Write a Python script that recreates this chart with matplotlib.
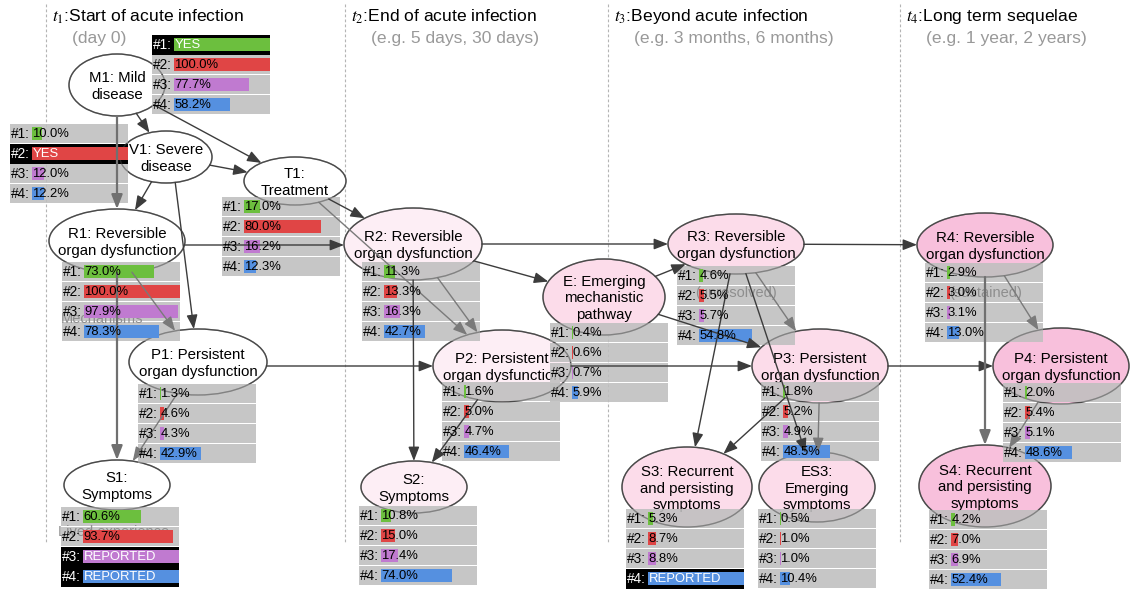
import matplotlib
matplotlib.use('Agg')
import matplotlib.pyplot as plt
from matplotlib.patches import Ellipse, Rectangle, FancyArrowPatch
import numpy as np

plt.rcParams['font.family'] = ['Liberation Sans', 'DejaVu Sans']
plt.rcParams['mathtext.fontset'] = 'stix'

# ---------------- data ----------------
phase_titles = [r'$t_1$:Start of acute infection', r'$t_2$:End of acute infection',
                r'$t_3$:Beyond acute infection', r'$t_4$:Long term sequelae']
phase_subtitles = ['(day 0)', '(e.g. 5 days, 30 days)',
                   '(e.g. 3 months, 6 months)', '(e.g. 1 year, 2 years)']

node_ids = ['M1', 'V1', 'T1', 'R1', 'P1', 'S1', 'R2', 'E', 'P2', 'S2',
            'R3', 'P3', 'S3', 'ES3', 'R4', 'P4', 'S4']
node_labels = ['M1: Mild\ndisease', 'V1: Severe\ndisease', 'T1:\nTreatment',
               'R1: Reversible\norgan dysfunction', 'P1: Persistent\norgan dysfunction',
               'S1:\nSymptoms',
               'R2: Reversible\norgan dysfunction', 'E: Emerging\nmechanistic\npathway',
               'P2: Persistent\norgan dysfunction', 'S2:\nSymptoms',
               'R3: Reversible\norgan dysfunction', 'P3: Persistent\norgan dysfunction',
               'S3: Recurrent\nand persisting\nsymptoms', 'ES3:\nEmerging\nsymptoms',
               'R4: Reversible\norgan dysfunction', 'P4: Persistent\norgan dysfunction',
               'S4: Recurrent\nand persisting\nsymptoms']

series_labels = ['#1', '#2', '#3', '#4']
series1 = ['YES', 10.0, 17.0, 73.0, 1.3, 60.6, 11.3, 0.4, 1.6, 10.8,
           4.6, 1.8, 5.3, 0.5, 2.9, 2.0, 4.2]
series2 = [100.0, 'YES', 80.0, 100.0, 4.6, 93.7, 13.3, 0.6, 5.0, 15.0,
           5.5, 5.2, 8.7, 1.0, 3.0, 5.4, 7.0]
series3 = [77.7, 12.0, 16.2, 97.9, 4.3, 'REPORTED', 16.3, 0.7, 4.7, 17.4,
           5.7, 4.9, 8.8, 1.0, 3.1, 5.1, 6.9]
series4 = [58.2, 12.2, 12.3, 78.3, 42.9, 'REPORTED', 42.7, 5.9, 46.4, 74.0,
           54.8, 48.5, 'REPORTED', 10.4, 13.0, 48.6, 52.4]

ghost_nodes = ['R1', 'S1', 'R3', 'R4']
ghost_texts = ['Mechanisms', 'Lived experience', '(unresolved)', '(sustained)']

edges = [('M1', 'V1', 'dark'), ('M1', 'T1', 'dark'), ('M1', 'R1', 'thick'),
         ('V1', 'T1', 'dark'), ('V1', 'R1', 'dark'), ('V1', 'P1', 'dark'),
         ('T1', 'R2', 'dark'), ('T1', 'P2', 'gray'),
         ('R1', 'R2', 'dark'), ('R1', 'P1', 'gray'), ('R1', 'S1', 'thick'),
         ('P1', 'S1', 'gray'), ('P1', 'P2', 'dark'),
         ('R2', 'P2', 'gray'), ('R2', 'S2', 'dark'), ('R2', 'R3', 'dark'),
         ('R2', 'E', 'dark'), ('E', 'R3', 'dark'), ('E', 'P3', 'dark'),
         ('P2', 'S2', 'dark'), ('P2', 'P3', 'dark'),
         ('R3', 'R4', 'dark'), ('R3', 'P3', 'gray'), ('R3', 'S3', 'dark'),
         ('R3', 'ES3', 'dark'), ('P3', 'S3', 'dark'), ('P3', 'ES3', 'gray'),
         ('P3', 'P4', 'dark'), ('R4', 'P4', 'gray'), ('R4', 'S4', 'thick'),
         ('P4', 'S4', 'gray')]

# ---------------- layout (pixels) ----------------
W, H = 1130, 590
phase_x = [46, 345, 608, 900]
node_geom = {  # cx, cy, half-width, half-height
    'M1': (117, 85, 48, 31), 'V1': (166, 157, 46, 26), 'T1': (295, 181, 51, 24),
    'R1': (117, 241, 68, 32), 'P1': (198, 362, 69, 33), 'S1': (117, 485, 53, 25),
    'R2': (413, 244, 69, 36), 'E': (604, 297, 61, 38), 'P2': (502, 366, 69, 36),
    'S2': (414, 487, 53, 26), 'R3': (736, 244, 68, 30), 'P3': (820, 366, 68, 37),
    'S3': (687, 487, 65, 40), 'ES3': (817, 487, 58, 35), 'R4': (985, 245, 68, 32),
    'P4': (1061, 366, 68, 38), 'S4': (985, 486, 66, 41)}
# (tail offset, head offset) for edges not attached centre-to-centre
edge_offsets = {('R1', 'R2'): ((0, 4), (0, 1)), ('P1', 'P2'): ((0, 4), (0, 0)),
                ('V1', 'P1'): ((6, 0), (0, 0)), ('R1', 'P1'): ((-8, 0), (0, 0))}
panel_pos = {  # left, top
    'M1': (152, 35), 'V1': (10, 124), 'T1': (222, 197), 'R1': (62, 262),
    'P1': (138, 384), 'S1': (61, 507), 'R2': (362, 262), 'E': (550, 323),
    'P2': (442, 382), 'S2': (359, 506), 'R3': (677, 266), 'P3': (761, 382),
    'S3': (626, 509), 'ES3': (758, 509), 'R4': (925, 263), 'P4': (1003, 383),
    'S4': (929, 510)}
ghost_pos = {'R1': (102, 319), 'S1': (114, 532), 'R3': (736, 293), 'R4': (986, 293)}
phase_fill = {'M1': 'white', 'V1': 'white', 'T1': 'white', 'R1': 'white', 'P1': 'white',
              'S1': 'white', 'R2': '#fdeef5', 'P2': '#fdeef5', 'S2': '#fdeef5',
              'E': '#fcdcea', 'R3': '#fcdcea', 'P3': '#fcdcea', 'S3': '#fcdcea',
              'ES3': '#fcdcea', 'R4': '#f8c0dc', 'P4': '#f8c0dc', 'S4': '#f8c0dc'}
series_colors = ['#6cbf3e', '#e04545', '#c07ad0', '#5590e0']
edge_style = {'dark': dict(color='#3c3c3c', lw=1.0),
              'gray': dict(color='#7a7a7a', lw=1.0),
              'thick': dict(color='#707070', lw=1.6)}

PANEL_W, LABEL_W, BAR_MAX = 118, 22, 96
ROW_H, PITCH, BAR_H = 19, 20, 13

fig = plt.figure(figsize=(W / 100, H / 100), dpi=100)
ax = fig.add_axes([0, 0, 1, 1])
ax.set_xlim(0, W)
ax.set_ylim(H, 0)
ax.axis('off')

# phase headers
for px, title, sub in zip(phase_x, phase_titles, phase_subtitles):
    ax.plot([px, px], [4, 543], color='#b4b4b4', lw=0.8, ls=(0, (2.5, 2)), zorder=0)
    ax.text(px + 6, 17, title, fontsize=12.6, va='center', ha='left', color='black')
    ax.text(px + 26, 39, sub, fontsize=12.6, va='center', ha='left', color='#999999')

# nodes
for nid, lab in zip(node_ids, node_labels):
    cx, cy, a, b = node_geom[nid]
    ax.add_patch(Ellipse((cx, cy), 2 * a, 2 * b, fc=phase_fill[nid], ec='#4a4a4a',
                         lw=1.0, zorder=2))
    ax.add_patch(Ellipse((cx, cy), 2 * a, 2 * b, fc='none', ec='#4a4a4a',
                         lw=1.0, alpha=0.45, zorder=4.6))
    ax.text(cx, cy + 1.5, lab, fontsize=10.8, ha='center', va='center',
            linespacing=1.22, zorder=3)

# ghost labels
for nid, gt in zip(ghost_nodes, ghost_texts):
    gx, gy = ghost_pos[nid]
    ax.text(gx, gy, gt, fontsize=10.5, color='#8e8e8e', ha='center', va='center',
            zorder=4.4)

# panels
all_series = [series1, series2, series3, series4]
for i, nid in enumerate(node_ids):
    x0, top = panel_pos[nid]
    for k in range(4):
        v = all_series[k][i]
        y = top + k * PITCH
        special = isinstance(v, str)
        if special:
            ax.add_patch(Rectangle((x0, y - 0.5), PANEL_W, ROW_H + 1, fc='black',
                                   ec='none', zorder=4.5))
            w = BAR_MAX
            txt = v
            tcol = 'white'
        else:
            ax.add_patch(Rectangle((x0, y), PANEL_W, ROW_H, fc='#bfbfbf', alpha=0.88,
                                   ec='none', zorder=4))
            w = max(v / 100.0 * BAR_MAX, 1.3)
            txt = f'{v:.1f}%'
            tcol = 'black'
        ax.add_patch(Rectangle((x0 + LABEL_W, y + (ROW_H - BAR_H) / 2), w, BAR_H,
                               fc=series_colors[k], ec='none', zorder=5))
        ax.text(x0 + 0.5, y + ROW_H / 2 + 0.5, series_labels[k] + ':', fontsize=9.8,
                ha='left', va='center', color=tcol, zorder=6)
        ax.text(x0 + LABEL_W + 0.5, y + ROW_H / 2 + 0.5, txt, fontsize=9.4,
                ha='left', va='center', color=tcol, zorder=6)


def exit_t(cx, cy, a, b, px, py, dx, dy):
    ux, uy = (px - cx) / a, (py - cy) / b
    vx, vy = dx / a, dy / b
    A = vx * vx + vy * vy
    B = 2 * (ux * vx + uy * vy)
    C = ux * ux + uy * uy - 1
    return (-B + np.sqrt(max(B * B - 4 * A * C, 0))) / (2 * A)


for s, d, kind in edges:
    sx, sy, sa, sb = node_geom[s]
    tx, ty, ta, tb = node_geom[d]
    (ox, oy), (hx, hy) = edge_offsets.get((s, d), ((0, 0), (0, 0)))
    px, py = sx + ox, sy + oy
    qx, qy = tx + hx, ty + hy
    vx, vy = qx - px, qy - py
    t1 = exit_t(sx, sy, sa, sb, px, py, vx, vy)
    t2 = exit_t(tx, ty, ta, tb, qx, qy, -vx, -vy)
    start = (px + t1 * vx, py + t1 * vy)
    end = (qx - t2 * vx, qy - t2 * vy)
    st = edge_style[kind]
    ax.add_patch(FancyArrowPatch(start, end,
                                 arrowstyle='-|>,head_length=0.85,head_width=0.33',
                                 mutation_scale=10, shrinkA=0, shrinkB=0,
                                 color=st['color'], lw=st['lw'], zorder=5.5))

fig.savefig('out.png', dpi=100)
